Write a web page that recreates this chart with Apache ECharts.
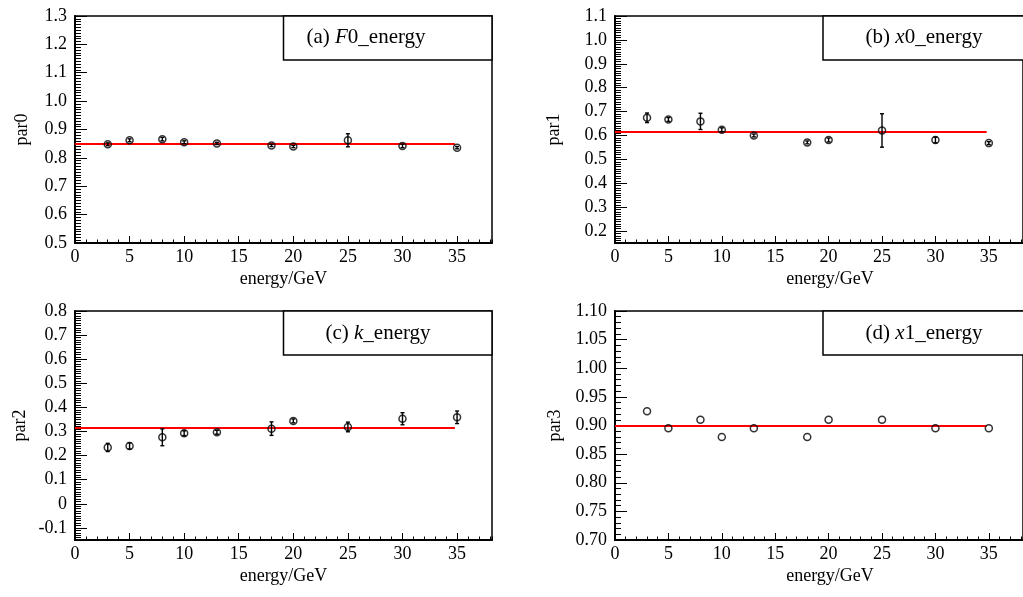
<!DOCTYPE html>
<html>
<head>
<meta charset="utf-8">
<script src="https://cdn.jsdelivr.net/npm/echarts@6/dist/echarts.min.js"></script>
<style>
html,body{margin:0;padding:0;background:#fff;}
#c{width:1023px;height:597px;}
</style>
</head>
<body>
<div id="c"></div>
<script>
// ---- data ----
const energy = [3, 5, 8, 10, 13, 18, 20, 25, 30, 35];

const par0 = [0.848, 0.862, 0.866, 0.855, 0.851, 0.844, 0.840, 0.862, 0.842, 0.836];
const par0Err = [0.005, 0.005, 0.006, 0.005, 0.004, 0.004, 0.004, 0.023, 0.006, 0.004];
const fit0 = 0.849;

const par1 = [0.674, 0.667, 0.659, 0.624, 0.600, 0.571, 0.581, 0.621, 0.581, 0.568];
const par1Err = [0.020, 0.008, 0.034, 0.008, 0.006, 0.006, 0.008, 0.070, 0.012, 0.006];
const fit1 = 0.615;

const par2 = [0.234, 0.240, 0.276, 0.293, 0.297, 0.312, 0.344, 0.319, 0.353, 0.359];
const par2Err = [0.017, 0.013, 0.035, 0.010, 0.008, 0.028, 0.008, 0.020, 0.025, 0.026];
const fit2 = 0.315;

const par3 = [0.925, 0.895, 0.910, 0.880, 0.895, 0.880, 0.910, 0.910, 0.895, 0.895];
const fit3 = 0.899;

const fitRange = [0, 34.8];

const xTicks = [0, 5, 10, 15, 20, 25, 30, 35];
const xLabels = ['0', '5', '10', '15', '20', '25', '30', '35'];

const yTicks0 = [0.5, 0.6, 0.7, 0.8, 0.9, 1.0, 1.1, 1.2, 1.3];
const yLabels0 = ['0.5', '0.6', '0.7', '0.8', '0.9', '1.0', '1.1', '1.2', '1.3'];
const yTicks1 = [0.2, 0.3, 0.4, 0.5, 0.6, 0.7, 0.8, 0.9, 1.0, 1.1];
const yLabels1 = ['0.2', '0.3', '0.4', '0.5', '0.6', '0.7', '0.8', '0.9', '1.0', '1.1'];
const yTicks2 = [-0.1, 0, 0.1, 0.2, 0.3, 0.4, 0.5, 0.6, 0.7, 0.8];
const yLabels2 = ['-0.1', '0', '0.1', '0.2', '0.3', '0.4', '0.5', '0.6', '0.7', '0.8'];
const yTicks3 = [0.70, 0.75, 0.80, 0.85, 0.90, 0.95, 1.00, 1.05, 1.10];
const yLabels3 = ['0.70', '0.75', '0.80', '0.85', '0.90', '0.95', '1.00', '1.05', '1.10'];

const yNames = ['par0', 'par1', 'par2', 'par3'];
const xName = 'energy/GeV';
const legendTexts = ['(a) {i|F}0_energy', '(b) {i|x}0_energy', '(c) {i|k}_energy', '(d) {i|x}1_energy'];

// ---- layout ----
const FONT = 'Liberation Serif';
const panels = [
  {left: 75, top: 16, height: 227, yMin: 0.5, yMax: 1.3, yMinor: 0.01, ticks: yTicks0, labels: yLabels0, vals: par0, errs: par0Err, fit: fit0, nameGap: 44, lgX: 366, lgY: 37, boxX: 283.5},
  {left: 615, top: 16, height: 227, yMin: 0.15, yMax: 1.1, yMinor: 0.01, ticks: yTicks1, labels: yLabels1, vals: par1, errs: par1Err, fit: fit1, nameGap: 52, lgX: 924, lgY: 37, boxX: 823},
  {left: 75, top: 311, height: 229, yMin: -0.15, yMax: 0.8, yMinor: 0.01, ticks: yTicks2, labels: yLabels2, vals: par2, errs: par2Err, fit: fit2, nameGap: 46, lgX: 378, lgY: 333, boxX: 283.5},
  {left: 615, top: 311, height: 229, yMin: 0.70, yMax: 1.10, yMinor: 0.01, ticks: yTicks3, labels: yLabels3, vals: par3, errs: null, fit: fit3, nameGap: 51, lgX: 924, lgY: 333, boxX: 823}
];
const PW = 417;
const XMAX = 38.2;

function lookup(ticks, labels) {
  return function (v) {
    for (let i = 0; i < ticks.length; i++) if (Math.abs(ticks[i] - v) < 1e-6) return labels[i];
    return '';
  };
}

function errRender(params, api) {
  const x = api.value(0), y = api.value(1), e = api.value(2);
  const p1 = api.coord([x, y + e]);
  const p2 = api.coord([x, y - e]);
  const st = {stroke: '#000', lineWidth: 1.4};
  const c = 2;
  return {
    type: 'group',
    children: [
      {type: 'line', shape: {x1: p1[0], y1: p1[1], x2: p2[0], y2: p2[1]}, style: st},
      {type: 'line', shape: {x1: p1[0] - c, y1: p1[1], x2: p1[0] + c, y2: p1[1]}, style: st},
      {type: 'line', shape: {x1: p2[0] - c, y1: p2[1], x2: p2[0] + c, y2: p2[1]}, style: st}
    ]
  };
}

const grid = [], xAxis = [], yAxis = [], series = [], graphic = [];
const labelStyle = {fontFamily: FONT, fontSize: 18, color: '#000'};

panels.forEach(function (p, k) {
  grid.push({left: p.left, top: p.top, width: PW, height: p.height, show: true, borderColor: '#000', borderWidth: 1.5, backgroundColor: 'transparent'});
  // minor x
  xAxis.push({type: 'value', gridIndex: k, position: 'bottom', min: 0, max: XMAX, interval: 1,
    axisLine: {show: true, onZero: false, lineStyle: {color: '#000', width: 2}},
    axisTick: {show: true, inside: true, length: 3.5, lineStyle: {color: '#000', width: 1}},
    axisLabel: {show: false}, splitLine: {show: false}});
  // major x
  xAxis.push({type: 'value', gridIndex: k, position: 'bottom', min: 0, max: XMAX,
    name: xName, nameLocation: 'middle', nameGap: 27,
    nameTextStyle: Object.assign({}, labelStyle, k % 2 === 1 ? {padding: [0, 0, 0, 22]} : {}),
    axisLine: {show: false, onZero: false},
    axisTick: {show: true, inside: true, length: 7, lineStyle: {color: '#000', width: 1}, customValues: xTicks},
    axisLabel: Object.assign({show: true, margin: 5, customValues: xTicks, formatter: lookup(xTicks, xLabels)}, labelStyle),
    splitLine: {show: false}});
  // minor y
  yAxis.push({type: 'value', gridIndex: k, position: 'left', min: p.yMin, max: p.yMax, interval: p.yMinor,
    axisLine: {show: true, onZero: false, lineStyle: {color: '#000', width: 2}},
    axisTick: {show: true, inside: true, length: 6, lineStyle: {color: '#000', width: 1}},
    axisLabel: {show: false}, splitLine: {show: false}});
  // major y
  yAxis.push({type: 'value', gridIndex: k, position: 'left', min: p.yMin, max: p.yMax,
    name: yNames[k], nameLocation: 'middle', nameGap: p.nameGap, nameRotate: 90,
    nameTextStyle: labelStyle,
    axisLine: {show: false, onZero: false},
    axisTick: {show: true, inside: true, length: 12, lineStyle: {color: '#000', width: 1}, customValues: p.ticks},
    axisLabel: Object.assign({show: true, margin: 8, customValues: p.ticks, formatter: lookup(p.ticks, p.labels)}, labelStyle),
    splitLine: {show: false}});

  const xi = 2 * k, yi = 2 * k;
  series.push({type: 'line', xAxisIndex: xi, yAxisIndex: yi, data: [[fitRange[0], p.fit], [fitRange[1], p.fit]],
    symbol: 'none', lineStyle: {color: '#ff0000', width: 2}, z: 2, silent: true});
  if (p.errs) {
    series.push({type: 'custom', xAxisIndex: xi, yAxisIndex: yi, renderItem: errRender, z: 3, silent: true,
      data: energy.map(function (e, i) { return [e, p.vals[i], p.errs[i]]; })});
  }
  series.push({type: 'scatter', xAxisIndex: xi, yAxisIndex: yi, symbol: 'circle', symbolSize: 7, z: 4, silent: true,
    itemStyle: {color: 'rgba(0,0,0,0)', borderColor: '#000', borderWidth: 1.5},
    data: energy.map(function (e, i) { return [e, p.vals[i]]; })});

  graphic.push({type: 'rect', shape: {x: p.boxX, y: p.top, width: 208.5, height: 44}, z: 100,
    style: {fill: '#fff', stroke: '#000', lineWidth: 1.5}});
  graphic.push({type: 'text', x: p.lgX, y: p.lgY, z: 101,
    style: {text: legendTexts[k], fontFamily: FONT, fontSize: 21, fill: '#000', align: 'center', verticalAlign: 'middle',
      rich: {i: {fontFamily: FONT, fontSize: 21, fontStyle: 'italic', fill: '#000'}}}});
});

const chart = echarts.init(document.getElementById('c'), null, {renderer: 'canvas'});
chart.setOption({animation: false, backgroundColor: '#fff', grid: grid, xAxis: xAxis, yAxis: yAxis, series: series, graphic: graphic});
</script>
</body>
</html>
